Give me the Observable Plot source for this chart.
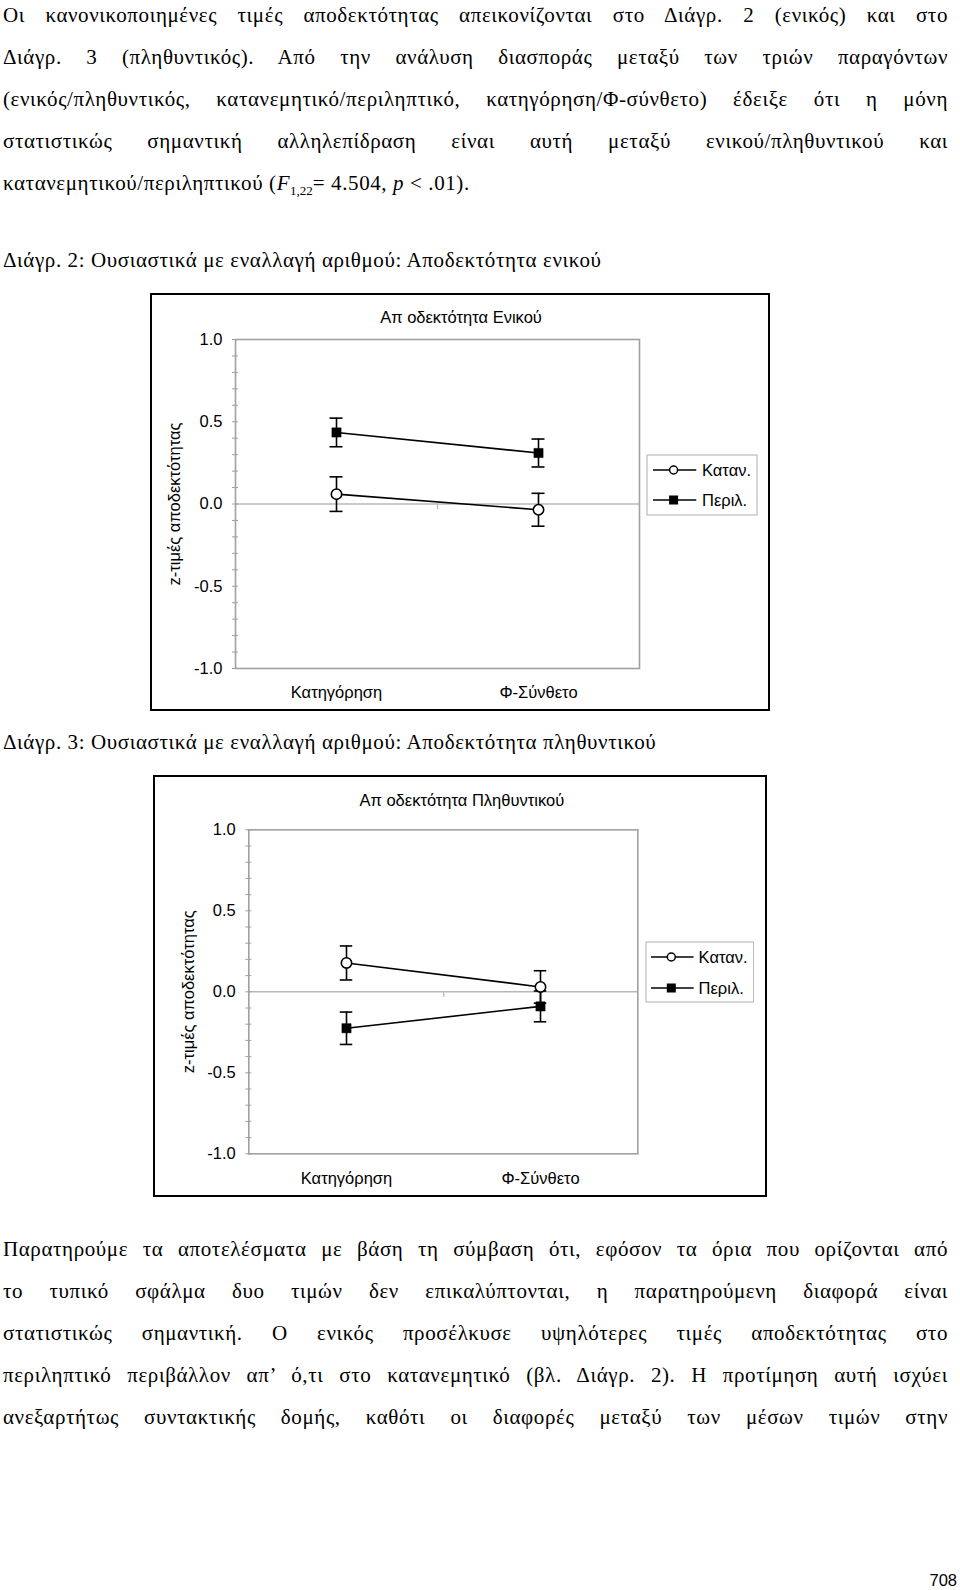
<!DOCTYPE html>
<html>
<head>
<meta charset="utf-8">
<script src="https://cdn.jsdelivr.net/npm/d3@7"></script>
<script src="https://cdn.jsdelivr.net/npm/@observablehq/plot@0.6"></script>
<style>
  html, body { margin: 0; padding: 0; background: #fff; }
  body { position: relative; width: 960px; height: 1590px; overflow: hidden; }
  .ln { position: absolute; left: 3px; width: 945px; font-family: "Liberation Serif", "Times New Roman", serif;
        font-size: 21px; line-height: 21px; letter-spacing: 0.6px; color: #000; text-align: justify; text-align-last: justify; white-space: nowrap; }
  .ln.last { text-align-last: left; }
  .ln sub { font-size: 13px; line-height: 0; letter-spacing: 0; }
  .box { position: absolute; border: 2px solid #000; box-sizing: border-box; background: #fff; }
  .box svg { position: absolute; left: 0; top: 0; }
  .legend { position: absolute; }
  .pnum { position: absolute; right: 3px; top: 1572px; font-family: "Liberation Sans", Arial, sans-serif; font-size: 16.5px; line-height: 16px; }
</style>
</head>
<body>
<script>
// ---------------- data ----------------
const categories = ["Κατηγόρηση", "Φ-Σύνθετο"];
const seriesNames = ["Καταν.", "Περιλ."];
const yTicks = [-1.0, -0.5, 0.0, 0.5, 1.0];
const yMinorTicks = [-1.0, -0.9, -0.8, -0.7, -0.6, -0.5, -0.4, -0.3, -0.2, -0.1, 0.0, 0.1, 0.2, 0.3, 0.4, 0.5, 0.6, 0.7, 0.8, 0.9, 1.0];
const yLabel = "z-τιμές αποδεκτότητας";

// Διάγρ. 2 – Αποδεκτότητα Ενικού
const sgTitle = "Απ οδεκτότητα Ενικού";
const sgKatan = [0.06, -0.035];
const sgKatanSE = [0.105, 0.10];
const sgPeril = [0.435, 0.31];
const sgPerilSE = [0.087, 0.085];

// Διάγρ. 3 – Αποδεκτότητα Πληθυντικού
const plTitle = "Απ οδεκτότητα Πληθυντικού";
const plKatan = [0.178, 0.03];
const plKatanSE = [0.105, 0.10];
const plPeril = [-0.225, -0.09];
const plPerilSE = [0.10, 0.095];

// page text
const para1 = [
  "Οι κανονικοποιημένες τιμές αποδεκτότητας απεικονίζονται στο Διάγρ. 2 (ενικός) και στο",
  "Διάγρ. 3 (πληθυντικός). Από την ανάλυση διασποράς μεταξύ των τριών παραγόντων",
  "(ενικός/πληθυντικός, κατανεμητικό/περιληπτικό, κατηγόρηση/Φ-σύνθετο) έδειξε ότι η μόνη",
  "στατιστικώς σημαντική αλληλεπίδραση είναι αυτή μεταξύ ενικού/πληθυντικού και",
  "κατανεμητικού/περιληπτικού (<i>F</i><sub>1,22</sub>= 4.504, <i>p</i> < .01)."
];
const caption2 = "Διάγρ. 2: Ουσιαστικά με εναλλαγή αριθμού: Αποδεκτότητα ενικού";
const caption3 = "Διάγρ. 3: Ουσιαστικά με εναλλαγή αριθμού: Αποδεκτότητα πληθυντικού";
const para2 = [
  "Παρατηρούμε τα αποτελέσματα με βάση τη σύμβαση ότι, εφόσον τα όρια που ορίζονται από",
  "το τυπικό σφάλμα δυο τιμών δεν επικαλύπτονται, η παρατηρούμενη διαφορά είναι",
  "στατιστικώς σημαντική. Ο ενικός προσέλκυσε υψηλότερες τιμές αποδεκτότητας στο",
  "περιληπτικό περιβάλλον απ’ ό,τι στο κατανεμητικό (βλ. Διάγρ. 2). Η προτίμηση αυτή ισχύει",
  "ανεξαρτήτως συντακτικής δομής, καθότι οι διαφορές μεταξύ των μέσων τιμών στην"
];
const pageNumber = "708";

// ---------------- text ----------------
const page = document.body;
function addLine(html, baseline, last) {
  const d = document.createElement("div");
  d.className = "ln" + (last ? " last" : "");
  d.style.top = (baseline - 17.6) + "px";
  d.innerHTML = html;
  page.appendChild(d);
}
para1.forEach((t, i) => addLine(t, 22.5 + i * 42, i === para1.length - 1));
addLine(caption2, 268, true);
addLine(caption3, 750, true);
para2.forEach((t, i) => addLine(t, 1256.5 + i * 42, false));
const pn = document.createElement("div");
pn.className = "pnum"; pn.textContent = pageNumber; page.appendChild(pn);

// ---------------- charts ----------------
function rowsFor(katan, katanSE, peril, perilSE) {
  const rows = [];
  categories.forEach((c, i) => {
    rows.push({cat: c, series: seriesNames[0], value: katan[i], lo: katan[i] - katanSE[i], hi: katan[i] + katanSE[i]});
  });
  categories.forEach((c, i) => {
    rows.push({cat: c, series: seriesNames[1], value: peril[i], lo: peril[i] - perilSE[i], hi: peril[i] + perilSE[i]});
  });
  return rows;
}

function makeChart(cfg) {
  const {rows, title, box, W, H, mL, mR, mT, mB, titleDx, titleDy, labelDx} = cfg;
  const bw = (W - mL - mR) / categories.length;
  const capInset = (bw - 13) / 2;
  const font = "'Liberation Sans', Arial, sans-serif";
  const chart = Plot.plot({
    width: W, height: H,
    marginLeft: mL, marginRight: mR, marginTop: mT, marginBottom: mB,
    style: {fontFamily: font, fontSize: "16.5px", color: "#000", background: "transparent", overflow: "visible"},
    x: {type: "band", domain: categories, padding: 0},
    y: {domain: [-1, 1]},
    marks: [
      Plot.ruleY([0], {stroke: "#b8b8b8", strokeWidth: 1.5}),
      Plot.ruleX([categories[0]], {y1: 0, y2: -0.035, dx: bw / 2, stroke: "#b8b8b8", strokeWidth: 1.2}),
      Plot.frame({stroke: "#a0a0a0", strokeWidth: 1.6}),
      Plot.axisY({ticks: yMinorTicks, tickSize: 6, dx: 3, tickFormat: () => "", label: null, stroke: "#a0a0a0"}),
      Plot.axisY({ticks: yTicks, tickSize: 0, tickPadding: 13, tickFormat: d => d.toFixed(1), label: null, fontSize: 16.5}),
      Plot.axisX({tickSize: 0, tickPadding: 18, label: null, fontSize: 16.5}),
      Plot.line(rows, {x: "cat", y: "value", z: "series", stroke: "#000", strokeWidth: 1.6}),
      Plot.ruleX(rows, {x: "cat", y1: "lo", y2: "hi", stroke: "#000", strokeWidth: 1.6}),
      Plot.tickY(rows, {x: "cat", y: "lo", insetLeft: capInset, insetRight: capInset, stroke: "#000", strokeWidth: 1.6}),
      Plot.tickY(rows, {x: "cat", y: "hi", insetLeft: capInset, insetRight: capInset, stroke: "#000", strokeWidth: 1.6}),
      Plot.dot(rows.filter(d => d.series === seriesNames[0]), {x: "cat", y: "value", r: 5.2, symbol: "circle", fill: "#fff", stroke: "#000", strokeWidth: 1.6}),
      Plot.dot(rows.filter(d => d.series === seriesNames[1]), {x: "cat", y: "value", r: 5.2, symbol: "square", fill: "#000", stroke: "#000", strokeWidth: 0.5}),
      Plot.text([title], {text: d => d, frameAnchor: "top", lineAnchor: "middle", textAnchor: "middle", dx: titleDx, dy: titleDy, fontSize: 16.5}),
      Plot.text([yLabel], {text: d => d, frameAnchor: "left", textAnchor: "middle", lineAnchor: "middle", rotate: -90, dx: labelDx, fontSize: 16.5})
    ]
  });
  const div = document.createElement("div");
  div.className = "box";
  div.style.left = box.left + "px"; div.style.top = box.top + "px";
  div.style.width = box.width + "px"; div.style.height = box.height + "px";
  div.appendChild(chart);
  page.appendChild(div);
}

function makeLegend(lg) {
  const svg = d3.create("svg").attr("width", lg.w + 2).attr("height", lg.h + 2)
    .attr("class", "legend").style("left", (lg.left - 1) + "px").style("top", (lg.top - 1) + "px");
  svg.append("rect").attr("x", 1).attr("y", 1).attr("width", lg.w).attr("height", lg.h)
    .attr("fill", "#fff").attr("stroke", "#bdbdbd").attr("stroke-width", 1.2);
  seriesNames.forEach((name, i) => {
    const y = lg.rows[i] + 1;
    svg.append("line").attr("x1", lg.lx1 + 1).attr("x2", lg.lx2 + 1).attr("y1", y).attr("y2", y)
      .attr("stroke", "#000").attr("stroke-width", 1.6);
    if (i === 0) {
      svg.append("circle").attr("cx", lg.sx + 1).attr("cy", y).attr("r", 4)
        .attr("fill", "#fff").attr("stroke", "#000").attr("stroke-width", 1.5);
    } else {
      svg.append("rect").attr("x", lg.sx + 1 - 4.5).attr("y", y - 4.5).attr("width", 9).attr("height", 9).attr("fill", "#000");
    }
    svg.append("text").attr("x", lg.tx + 1).attr("y", y).attr("dy", "0.35em")
      .attr("font-family", "'Liberation Sans', Arial, sans-serif").attr("font-size", 16.5).text(name);
  });
  page.appendChild(svg.node());
}

makeChart({
  rows: rowsFor(sgKatan, sgKatanSE, sgPeril, sgPerilSE), title: sgTitle,
  box: {left: 150, top: 293, width: 620, height: 418},
  W: 616, H: 414, mL: 83, mR: 129, mT: 44, mB: 41,
  titleDx: 23.5, titleDy: -22, labelDx: -61
});
makeLegend({left: 646.7, top: 455, w: 110, h: 60, rows: [15, 45], lx1: 6, lx2: 49.3, sx: 26.6, tx: 55});

makeChart({
  rows: rowsFor(plKatan, plKatanSE, plPeril, plPerilSE), title: plTitle,
  box: {left: 153, top: 775, width: 614, height: 422},
  W: 610, H: 418, mL: 93.3, mR: 127.7, mT: 52.3, mB: 41.7,
  titleDx: 18.5, titleDy: -29, labelDx: -60.5
});
makeLegend({left: 645.7, top: 941.7, w: 107.6, h: 60, rows: [15, 46], lx1: 5, lx2: 47.6, sx: 25.3, tx: 52.6});
</script>
</body>
</html>
